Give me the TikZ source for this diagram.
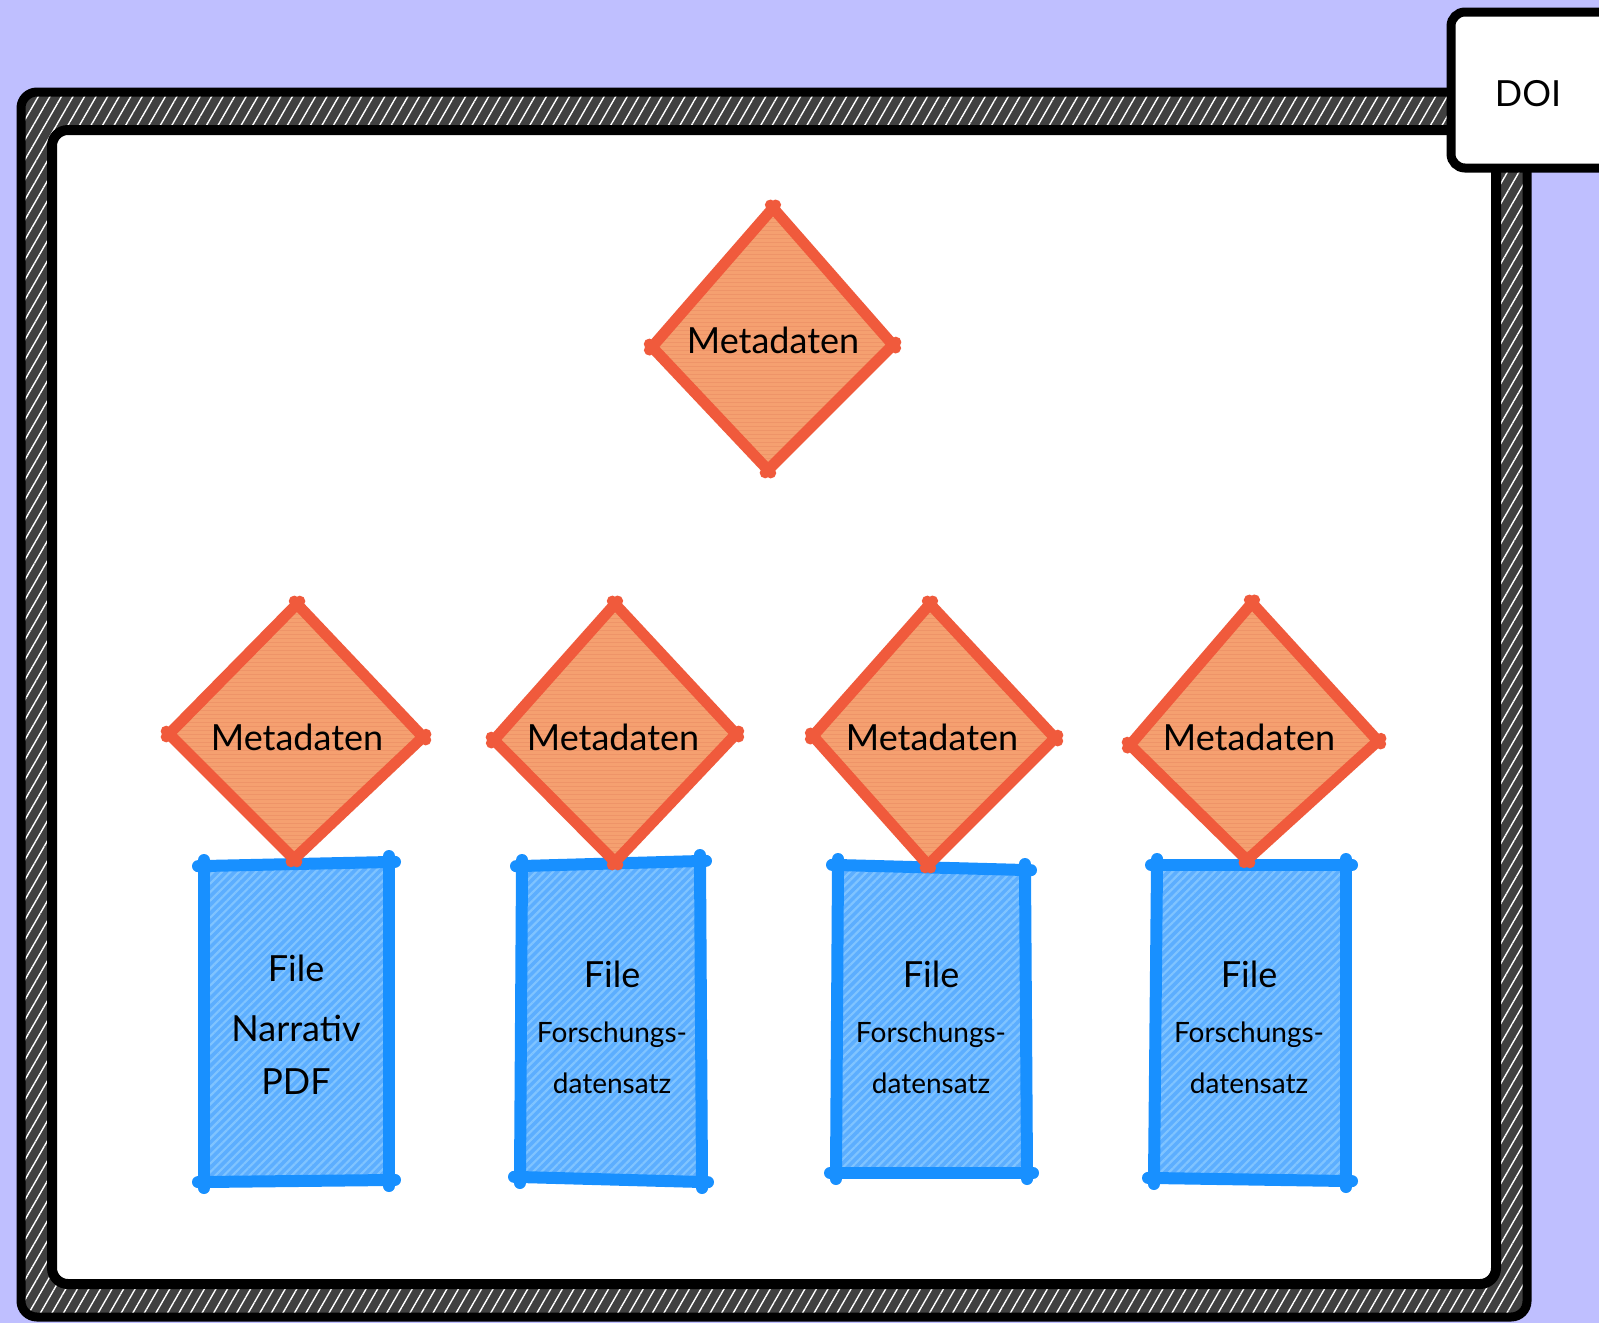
\documentclass[tikz,border=0pt]{standalone}
\usepackage{fontspec}
\setmainfont{Lato}
\usetikzlibrary{patterns.meta}
\definecolor{bgcol}{HTML}{BFBFFF}
\definecolor{framegray}{HTML}{404040}
\definecolor{bluestroke}{HTML}{1890FF}
\definecolor{bluefill}{HTML}{5CAEFF}
\definecolor{bluestripe}{HTML}{80C4FF}
\definecolor{orstroke}{HTML}{F05A3C}
\definecolor{orfill}{HTML}{F5A070}
\definecolor{orstripe}{HTML}{EE9468}
\tikzset{
  frameouter/.style={preaction={fill=framegray},
    pattern={Lines[angle=60,distance=5pt,line width=0.7pt]}, pattern color=white,
    draw=black, line width=4.5pt, rounded corners=8pt},
  frameinner/.style={fill=white, draw=black, line width=5pt, rounded corners=8pt},
  doibox/.style={fill=white, draw=black, line width=4.5pt, rounded corners=7pt},
  bfill/.style={preaction={fill=bluefill},
    pattern={Lines[angle=45,distance=3pt,line width=1.1pt]}, pattern color=bluestripe},
  bline/.style={draw=bluestroke, line width=6pt, line cap=round,
    shorten <=-3pt, shorten >=-3pt},
  dfill/.style={preaction={fill=orfill},
    pattern={Lines[angle=0,distance=2pt,line width=0.5pt]}, pattern color=orstripe},
  dline/.style={draw=orstroke, line width=5.5pt, line cap=round,
    shorten <=-2pt, shorten >=-2pt},
  dtxt/.style={font=\fontsize{18}{20}\selectfont, text=black, inner sep=0pt},
  bigtxt/.style={font=\fontsize{18}{20}\selectfont, text=black, inner sep=0pt},
  smalltxt/.style={font=\fontsize{14}{16}\selectfont, text=black, inner sep=0pt},
}
\newcommand\skShape[6]{%
  \coordinate (#1a) at #2; \coordinate (#1b) at #3;
  \coordinate (#1c) at #4; \coordinate (#1d) at #5;
  \path[#6fill] (#1a) -- (#1b) -- (#1c) -- (#1d) -- cycle;
  \draw[#6line] (#1a) -- (#1b);
  \draw[#6line] (#1b) -- (#1c);
  \draw[#6line] (#1c) -- (#1d);
  \draw[#6line] (#1d) -- (#1a);
}
\begin{document}
\begin{tikzpicture}[x=0.5pt,y=-0.5pt]
\useasboundingbox (0,0) rectangle (1599,1323);
\fill[bgcol] (0,0) rectangle (1599,1323);
% frame
\path[frameouter] (21,92) rectangle (1527,1317);
\path[frameinner] (52,130) rectangle (1496,1284);
% DOI tab
\path[doibox] (1451,12) rectangle (1650,168);
\node[bigtxt] (doi) at (1528,94) {DOI};
% blue file boxes
\skShape{bA}{(204,866)}{(389,862)}{(389,1180)}{(204,1182)}{b}
\skShape{bB}{(522,866)}{(700,861)}{(702,1182)}{(520,1177)}{b}
\skShape{bC}{(838,865)}{(1025,870)}{(1027,1173)}{(836,1173)}{b}
\skShape{bD}{(1157,865)}{(1346,865)}{(1346,1181)}{(1154,1178)}{b}
% diamonds
\skShape{dT}{(773,208)}{(893,345)}{(768,470)}{(652,347)}{d}
\skShape{dA}{(297,604)}{(423,737)}{(294,859)}{(169,734)}{d}
\skShape{dB}{(615,604)}{(736,734)}{(615,862)}{(494,740)}{d}
\skShape{dC}{(930,604)}{(1055,738)}{(928,865)}{(813,736)}{d}
\skShape{dD}{(1252,603)}{(1378,741)}{(1247,860)}{(1130,745)}{d}
% diamond labels
\node[dtxt] (mT) at (773,340) {Metadaten};
\node[dtxt] (mA) at (297,737) {Metadaten};
\node[dtxt] (mB) at (613,737) {Metadaten};
\node[dtxt] (mC) at (932,737) {Metadaten};
\node[dtxt] (mD) at (1249,737) {Metadaten};
% box labels
\node[bigtxt] (fA1) at (296,968) {File};
\node[bigtxt] (fA2) at (296,1028) {Narrativ};
\node[bigtxt] (fA3) at (296,1082) {PDF};
\node[bigtxt] (fB1) at (612,974) {File};
\node[smalltxt] (fB2) at (612,1035) {Forschungs-};
\node[smalltxt] (fB3) at (612,1083) {datensatz};
\node[bigtxt] (fC1) at (931,974) {File};
\node[smalltxt] (fC2) at (931,1035) {Forschungs-};
\node[smalltxt] (fC3) at (931,1083) {datensatz};
\node[bigtxt] (fD1) at (1249,974) {File};
\node[smalltxt] (fD2) at (1249,1035) {Forschungs-};
\node[smalltxt] (fD3) at (1249,1083) {datensatz};
\end{tikzpicture}
\end{document}
